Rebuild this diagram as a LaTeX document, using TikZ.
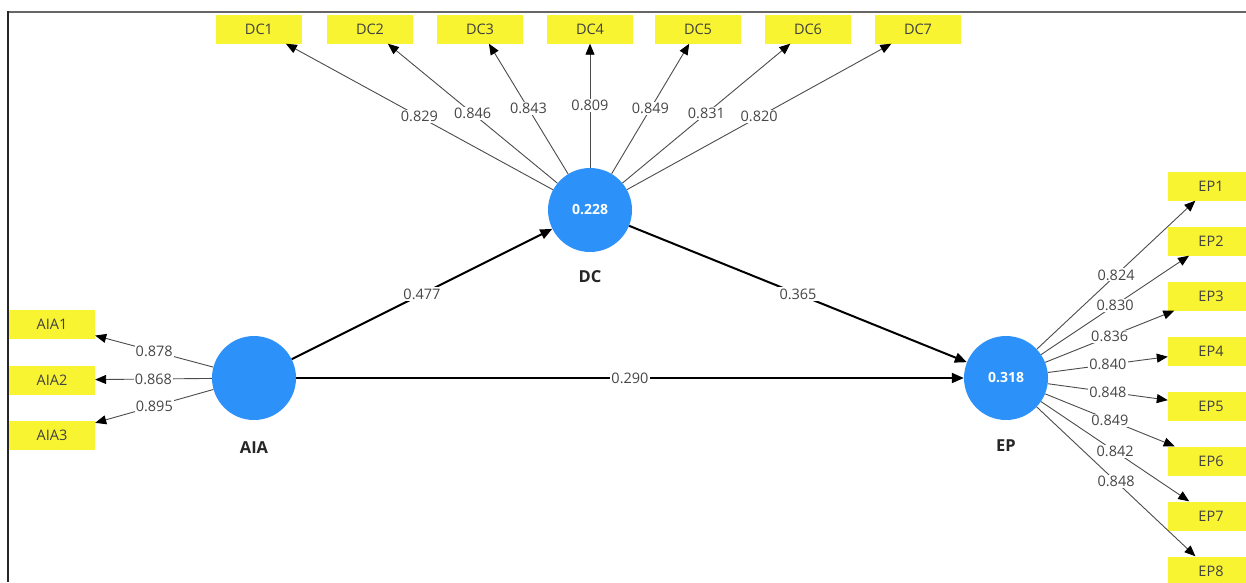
\documentclass[tikz,border=0pt]{standalone}
\usepackage{fontspec}
\setmainfont{Open Sans}
\usetikzlibrary{arrows.meta}
\definecolor{plsblue}{RGB}{45,145,250}
\definecolor{plsyellow}{RGB}{248,244,50}
\definecolor{txtgray}{RGB}{70,70,70}
\tikzset{
  ind/.style={fill=plsyellow, minimum width=86pt, minimum height=29pt, inner sep=0pt, font=\fontsize{14.5}{16}\selectfont, text=black!75},
  lv/.style={circle, fill=plsblue, minimum size=84pt, inner sep=0pt, font=\bfseries\fontsize{14}{16}\selectfont, text=white},
  lvname/.style={font=\bfseries\fontsize{16.5}{18}\selectfont, text=black!85},
  ld/.style={draw=black!70, line width=0.9pt, -{Triangle[length=11pt,width=9pt,color=black]}},
  sp/.style={draw=black, line width=2pt, -{Triangle[length=12pt,width=10pt]}},
  lbl/.style={fill=white, inner sep=1.2pt, font=\fontsize{14.5}{16}\selectfont, text=txtgray},
}
\begin{document}
\begin{tikzpicture}[x=1pt,y=-1pt]
\useasboundingbox (0,0) rectangle (1246,582);
\fill[white] (0,0) rectangle (1246,582);
% latent variables
\node[lv] (dc) at (590,210) {0.228};
\node[lv] (aia) at (254,378) {};
\node[lv] (ep) at (1006,378) {0.318};
\node[lvname] (dcn) at (590,277) {DC};
\node[lvname] (aian) at (254,448) {AIA};
\node[lvname] (epn) at (1006,446) {EP};
% DC indicators
\node[ind] (dc1) at (259,29) {DC1};
\node[ind] (dc2) at (370,29) {DC2};
\node[ind] (dc3) at (480,29) {DC3};
\node[ind] (dc4) at (590,29) {DC4};
\node[ind] (dc5) at (698,29) {DC5};
\node[ind] (dc6) at (808,29) {DC6};
\node[ind] (dc7) at (918,29) {DC7};
% AIA indicators
\node[ind] (aia1) at (52,324) {AIA1};
\node[ind] (aia2) at (52,380) {AIA2};
\node[ind] (aia3) at (52,435) {AIA3};
% EP indicators
\node[ind] (ep1) at (1211,186) {EP1};
\node[ind] (ep2) at (1211,241) {EP2};
\node[ind] (ep3) at (1211,296) {EP3};
\node[ind] (ep4) at (1211,351) {EP4};
\node[ind] (ep5) at (1211,406) {EP5};
\node[ind] (ep6) at (1211,461) {EP6};
\node[ind] (ep7) at (1211,516) {EP7};
\node[ind] (ep8) at (1211,571) {EP8};
% outer loadings DC
\draw[ld] (dc) -- node[lbl]{0.829} (dc1);
\draw[ld] (dc) -- node[lbl]{0.846} (dc2);
\draw[ld] (dc) -- node[lbl]{0.843} (dc3);
\draw[ld] (dc) -- node[lbl]{0.809} (dc4);
\draw[ld] (dc) -- node[lbl]{0.849} (dc5);
\draw[ld] (dc) -- node[lbl]{0.831} (dc6);
\draw[ld] (dc) -- node[lbl]{0.820} (dc7);
% outer loadings AIA
\draw[ld] (aia) -- node[lbl]{0.878} (aia1);
\draw[ld] (aia) -- node[lbl]{0.868} (aia2);
\draw[ld] (aia) -- node[lbl]{0.895} (aia3);
% outer loadings EP
\draw[ld] (ep) -- node[lbl]{0.824} (ep1);
\draw[ld] (ep) -- node[lbl]{0.830} (ep2);
\draw[ld] (ep) -- node[lbl]{0.836} (ep3);
\draw[ld] (ep) -- node[lbl]{0.840} (ep4);
\draw[ld] (ep) -- node[lbl]{0.848} (ep5);
\draw[ld] (ep) -- node[lbl]{0.849} (ep6);
\draw[ld] (ep) -- node[lbl]{0.842} (ep7);
\draw[ld] (ep) -- node[lbl]{0.848} (ep8);
% structural paths
\draw[sp] (aia) -- node[lbl]{0.477} (dc);
\draw[sp] (dc) -- node[lbl]{0.365} (ep);
\draw[sp] (aia) -- node[lbl]{0.290} (ep);
% frame
\draw[black!60, line width=1.2pt] (8,12) -- (1246,12);
\draw[black!85, line width=1.5pt] (8,11.4) -- (8,582);
\end{tikzpicture}
\end{document}
